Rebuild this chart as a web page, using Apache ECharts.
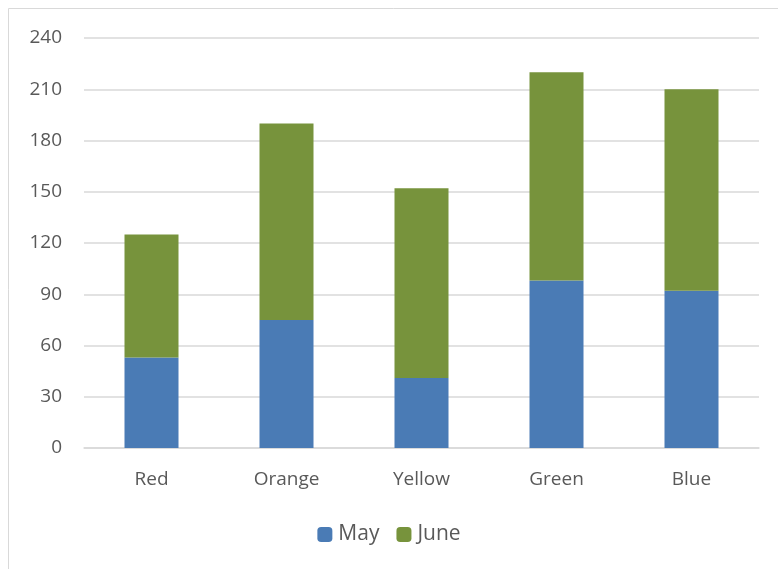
<!DOCTYPE html>
<html><head><meta charset="utf-8">
<script src="https://cdn.jsdelivr.net/npm/echarts@6/dist/echarts.min.js"></script>
<style>html,body{margin:0;padding:0;background:#fff}#c{width:778px;height:569px}</style>
</head><body><div id="c"></div>
<script>
const categories = ['Red','Orange','Yellow','Green','Blue'];
const may = [53, 75, 41, 98, 92];
const june = [72, 115, 111, 122, 118];
const yTicks = [0,30,60,90,120,150,180,210,240];

const chart = echarts.init(document.getElementById('c'));
chart.setOption({
  animation:false,
  textStyle:{fontFamily:'Open Sans, Noto Sans, sans-serif'},
  graphic:[{type:'rect',shape:{x:8.5,y:8.5,width:800,height:600},style:{fill:'none',stroke:'#d9d9d9',lineWidth:1},z:-1}],
  grid:{left:84,right:19,top:38,bottom:121},
  legend:{top:519,left:'center',itemWidth:15,itemHeight:15,itemGap:17,
    textStyle:{fontSize:21,color:'#595959',padding:[0,0,0,1]},data:['May','June']},
  xAxis:{type:'category',data:categories,
    axisLine:{lineStyle:{color:'#d9d9d9',width:1.5}},axisTick:{show:false},
    axisLabel:{fontSize:19,color:'#595959',margin:22}},
  yAxis:{type:'value',min:yTicks[0],max:yTicks[yTicks.length-1],interval:30,
    axisLine:{show:false},axisTick:{show:false},
    splitLine:{lineStyle:{color:'#d9d9d9',width:1.5}},
    axisLabel:{fontSize:19,color:'#595959',margin:22}},
  series:[
    {name:'May',type:'bar',stack:'s',data:may,barWidth:'40%',itemStyle:{color:'#4A7BB5'}},
    {name:'June',type:'bar',stack:'s',data:june,barWidth:'40%',itemStyle:{color:'#77933C'}}
  ]
});
</script></body></html>
